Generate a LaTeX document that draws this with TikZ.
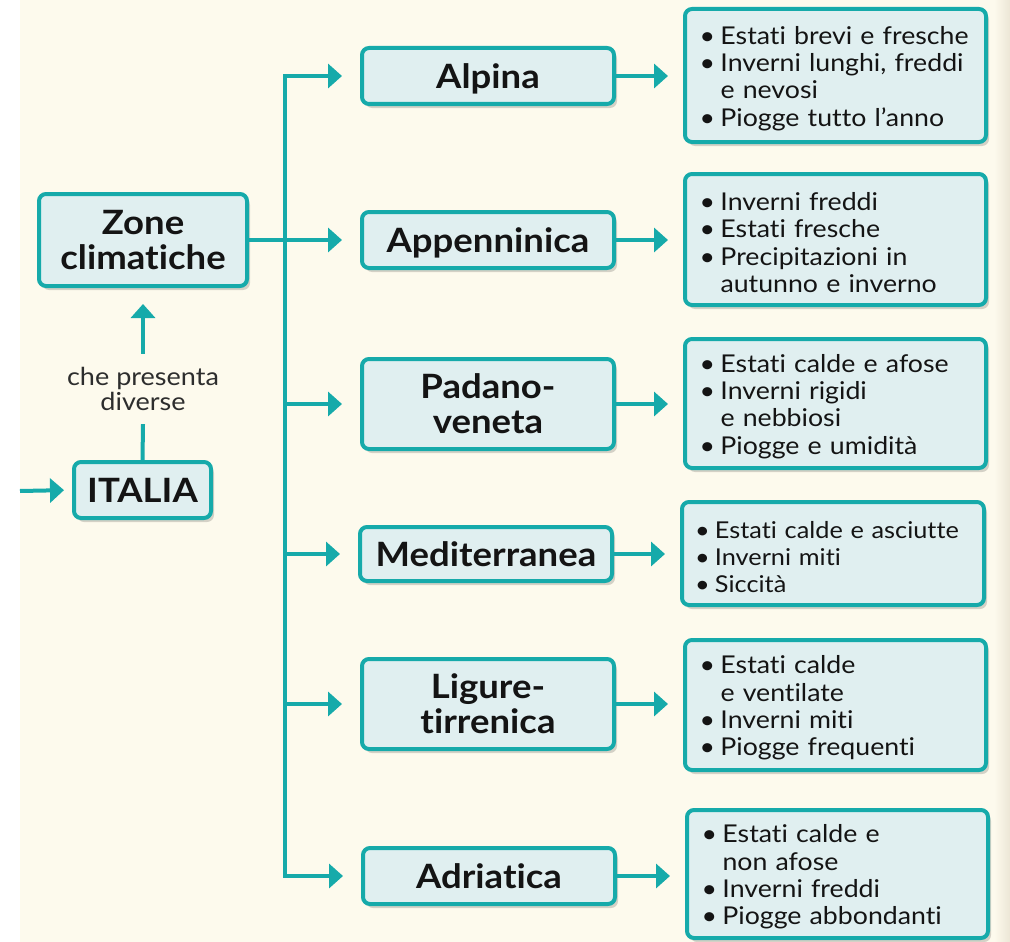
\documentclass[tikz,border=0pt]{standalone}
\usepackage{fontspec}
\setmainfont{Lato}[FakeStretch=1.09, Ligatures=NoCommon]
\usetikzlibrary{arrows.meta,shadows}
\definecolor{teal1}{RGB}{22,170,170}
\definecolor{boxfill}{RGB}{224,239,240}
\definecolor{cream}{RGB}{253,250,237}
\definecolor{edgecol}{RGB}{236,230,214}
\definecolor{labelgray}{RGB}{45,45,45}
\definecolor{txt}{RGB}{20,20,20}
\newcommand{\bu}{\makebox[21pt][l]{\textbullet}}
\newcommand{\hng}{\hspace*{21pt}}
\newcommand{\fl}{\rule{0pt}{24pt}}
\begin{document}
\begin{tikzpicture}[x=1pt,y=-1pt,
  base/.style={draw=teal1, line width=4pt, fill=boxfill, rounded corners=7pt, text=txt,
    drop shadow={shadow xshift=3pt, shadow yshift=-4pt, fill=black, opacity=0.16}},
  mainbox/.style={base, font=\fontsize{33.5}{35}\selectfont\bfseries, align=center, inner sep=0pt, text depth=0pt},
  zonebox/.style={mainbox, minimum width=252pt},
  infobox/.style={base, font=\fontsize{24.5}{27.4}\selectfont, align=left, text width=272pt, minimum width=301pt, inner xsep=14.5pt, inner ysep=0pt},
  conn/.style={draw=teal1, line width=4pt},
  arr/.style={conn, -{Triangle[length=14pt,width=24pt]}},
]
\useasboundingbox (0,0) rectangle (1010,942);
\fill[white] (0,0) rectangle (1010,942);
\fill[cream] (20,0) rectangle (1010,942);
\shade[left color=cream, right color=edgecol] (994,0) rectangle (1010,942);

% left column
\node[mainbox, minimum width=208pt, minimum height=92pt] (zone) at (143,240) {Zone\\climatiche};
\node[mainbox, minimum width=137pt, minimum height=56pt] (italia) at (142.5,490) {ITALIA};
\node[font=\fontsize{24.8}{25.5}\selectfont, text=labelgray, align=center, inner sep=0pt, minimum height=70pt] (lab) at (143,389) {che presenta\\diverse};
\coordinate (start) at (20,491);

% middle column
\node[zonebox, minimum height=56pt] (alpina) at (488,76) {Alpina};
\node[zonebox, minimum height=56pt] (appen) at (488,240) {Appenninica};
\node[zonebox, minimum height=90pt] (padano) at (488,404) {Padano-\\veneta};
\node[zonebox, minimum height=54pt] (medit) at (486,554) {Mediterranea};
\node[zonebox, minimum height=90pt] (ligure) at (488,704) {Ligure-\\tirrenica};
\node[zonebox, minimum height=56pt] (adria) at (489,876) {Adriatica};

% right column
\node[infobox, minimum height=133pt] (r1) at (835.5,75.5) {\fl\bu Estati brevi e fresche\\ \bu Inverni lunghi, freddi\\ \hng e nevosi\\ \bu Piogge tutto l’anno};
\node[infobox, minimum height=131pt] (r2) at (835.5,239.5) {\fl\bu Inverni freddi\\ \bu Estati fresche\\ \bu Precipitazioni in\\ \hng autunno e inverno};
\node[infobox, minimum height=129pt] (r3) at (835.5,403.5) {\fl\bu Estati calde e afose\\ \bu Inverni rigidi\\ \hng e nebbiosi\\ \bu Piogge e umidità};
\node[infobox, minimum height=103pt, font=\fontsize{23.2}{27.4}\selectfont, text width=276pt, inner xsep=13pt] (r4) at (833,553.5) {\fl\makebox[20pt][l]{\textbullet}Estati calde e asciutte\\ \makebox[20pt][l]{\textbullet}Inverni miti\\ \makebox[20pt][l]{\textbullet}Siccità};
\node[infobox, minimum height=130pt] (r5) at (835.5,705) {\fl\bu Estati calde\\ \hng e ventilate\\ \bu Inverni miti\\ \bu Piogge frequenti};
\node[infobox, minimum height=128pt] (r6) at (837.5,874) {\fl\bu Estati calde e\\ \hng non afose\\ \bu Inverni freddi\\ \bu Piogge abbondanti};

\coordinate (trunk) at (285,0);

% connectors
\draw[arr, shorten >=8pt] (start) -- (italia.west);
\draw[conn] (italia.north) -- (lab.south);
\draw[arr, shorten >=16pt] (lab.north) -- (zone.south);
\draw[arr, shorten >=18pt] (zone.east) -- (appen.west);
\draw[arr, shorten >=18pt] (trunk |- zone.east) |- (alpina.west);
\draw[arr, shorten >=18pt] (trunk |- zone.east) |- (adria.west);
\draw[arr, shorten >=18pt] (trunk |- padano.west) -- (padano.west);
\draw[arr, shorten >=18pt] (trunk |- medit.west) -- (medit.west);
\draw[arr, shorten >=18pt] (trunk |- ligure.west) -- (ligure.west);

\draw[arr, shorten >=15pt] (alpina.east) -- (r1.west |- alpina.east);
\draw[arr, shorten >=15pt] (appen.east) -- (r2.west |- appen.east);
\draw[arr, shorten >=15pt] (padano.east) -- (r3.west |- padano.east);
\draw[arr, shorten >=15pt] (medit.east) -- (r4.west |- medit.east);
\draw[arr, shorten >=15pt] (ligure.east) -- (r5.west |- ligure.east);
\draw[arr, shorten >=15pt] (adria.east) -- (r6.west |- adria.east);
\end{tikzpicture}
\end{document}
